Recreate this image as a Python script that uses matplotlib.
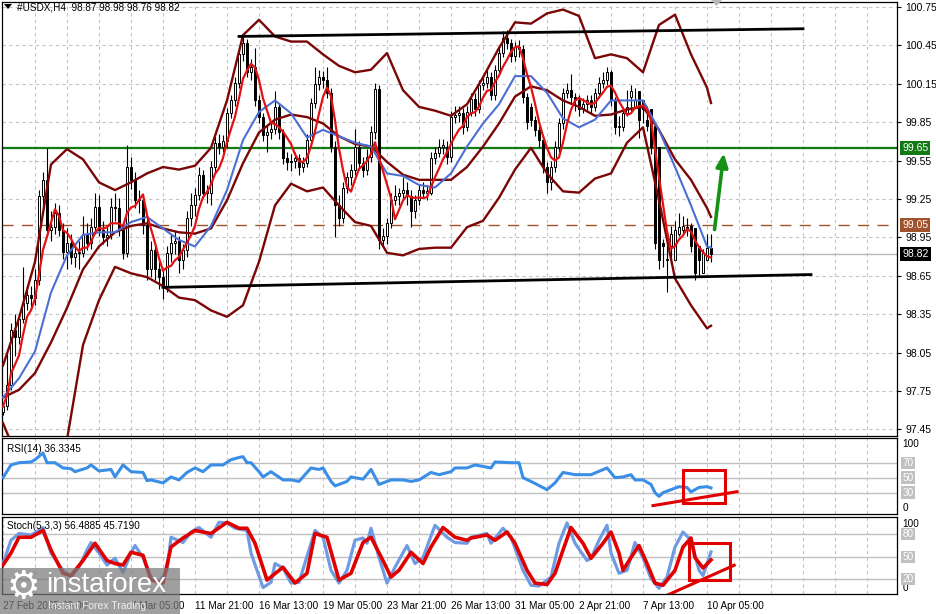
import numpy as np
import pandas as pd
import matplotlib
matplotlib.use("Agg")
import matplotlib.pyplot as plt
import matplotlib.transforms as mtrans
from matplotlib.patches import Rectangle, Polygon

plt.rcParams['font.family'] = ['Liberation Sans', 'DejaVu Sans']

# ---------------- data ----------------
opens = [97.59, 97.63, 97.80, 98.23, 98.17, 98.31, 98.44, 98.50, 98.48, 98.62,
         99.27, 99.40, 99.01, 99.03, 99.14, 99.01, 98.84, 98.91, 98.80, 98.83,
         98.83, 98.98, 98.91, 99.03, 99.19, 99.01, 98.95, 98.97, 99.19, 99.18,
         99.01, 98.83, 99.50, 99.40, 99.24, 99.24, 99.05, 98.70, 98.85, 98.70,
         98.64, 98.56, 98.83, 98.91, 98.92, 98.77, 98.85, 99.10, 99.20, 99.28,
         99.44, 99.30, 99.30, 99.50, 99.69, 99.66, 99.70, 99.92, 100.02, 100.16,
         100.38, 100.47, 100.24, 100.28, 100.02, 99.89, 99.75, 99.77, 99.80, 99.97,
         99.77, 99.57, 99.54, 99.55, 99.57, 99.50, 99.53, 99.71, 100.00, 100.15,
         100.20, 100.18, 100.08, 99.66, 99.20, 99.10, 99.34, 99.42, 99.48, 99.66,
         99.53, 99.48, 99.58, 99.77, 100.11, 98.93, 98.96, 99.06, 99.24, 99.27,
         99.30, 99.32, 99.27, 99.16, 99.24, 99.32, 99.30, 99.30, 99.57, 99.61,
         99.66, 99.66, 99.58, 99.89, 99.91, 99.92, 99.81, 99.93, 100.03, 99.95,
         100.14, 100.16, 100.20, 100.06, 100.26, 100.39, 100.51, 100.47, 100.37, 100.44,
         100.42, 100.05, 99.97, 99.87, 99.79, 99.71, 99.50, 99.38, 99.50, 99.66,
         99.84, 100.08, 100.10, 100.05, 100.02, 99.95, 99.99, 100.02, 99.97, 100.08,
         100.16, 100.18, 100.24, 100.02, 99.81, 99.81, 99.92, 100.05, 99.97, 100.09,
         100.02, 99.87, 99.95, 99.82, 99.66, 98.91, 98.77, 98.88, 98.77, 98.98,
         99.01, 99.03, 99.04, 99.02, 98.88, 98.67, 98.77, 98.87]
highs = [97.66, 98.05, 98.28, 98.35, 98.36, 98.72, 98.58, 98.57, 98.70, 99.32,
         99.46, 99.65, 99.16, 99.22, 99.20, 99.06, 99.02, 98.98, 98.90, 98.92,
         99.12, 99.06, 99.10, 99.30, 99.28, 99.08, 99.05, 99.26, 99.30, 99.26,
         99.05, 99.67, 99.58, 99.46, 99.32, 99.28, 99.10, 98.92, 98.90, 98.76,
         98.70, 98.88, 98.98, 99.00, 98.96, 98.90, 99.16, 99.30, 99.34, 99.50,
         99.48, 99.36, 99.55, 99.74, 99.76, 99.75, 99.96, 100.06, 100.20, 100.42,
         100.53, 100.50, 100.34, 100.43, 100.06, 99.92, 99.82, 99.86, 100.09, 100.00,
         99.80, 99.62, 99.60, 99.62, 99.60, 99.58, 99.76, 100.04, 100.28, 100.26,
         100.25, 100.28, 100.12, 99.70, 99.28, 99.38, 99.46, 99.52, 99.80, 99.70,
         99.58, 99.64, 99.82, 100.16, 100.14, 99.02, 99.10, 99.30, 99.36, 99.34,
         99.42, 99.38, 99.32, 99.28, 99.36, 99.38, 99.36, 99.62, 99.66, 99.72,
         99.72, 99.70, 99.94, 99.98, 99.98, 99.96, 99.98, 100.08, 100.08, 100.18,
         100.22, 100.26, 100.24, 100.30, 100.44, 100.56, 100.57, 100.50, 100.48, 100.49,
         100.45, 100.08, 100.00, 99.90, 99.82, 99.74, 99.54, 99.55, 99.70, 99.88,
         100.12, 100.16, 100.23, 100.08, 100.06, 100.04, 100.06, 100.06, 100.12, 100.20,
         100.24, 100.28, 100.26, 100.05, 99.90, 99.96, 100.10, 100.14, 100.12, 100.05,
         100.00, 99.98, 99.85, 99.68, 98.96, 98.94, 98.92, 99.04, 99.08, 99.14,
         99.12, 99.10, 99.06, 98.90, 98.80, 98.86, 98.98, 98.98]
lows = [97.56, 97.60, 97.76, 98.02, 98.12, 98.28, 98.38, 98.40, 98.42, 98.58,
        99.18, 98.95, 98.92, 98.98, 98.96, 98.78, 98.70, 98.74, 98.72, 98.70,
        98.80, 98.85, 98.86, 98.98, 98.96, 98.90, 98.88, 98.94, 99.08, 98.96,
        98.78, 98.80, 99.33, 99.18, 99.14, 98.98, 98.62, 98.64, 98.62, 98.55,
        98.47, 98.52, 98.76, 98.82, 98.67, 98.70, 98.80, 99.04, 99.12, 99.24,
        99.26, 99.22, 99.20, 99.45, 99.60, 99.62, 99.66, 99.88, 99.98, 100.12,
        100.33, 100.20, 100.18, 99.98, 99.84, 99.70, 99.62, 99.72, 99.76, 99.72,
        99.52, 99.48, 99.47, 99.49, 99.44, 99.46, 99.50, 99.68, 99.96, 100.10,
        100.12, 100.04, 99.62, 98.95, 99.04, 99.06, 99.30, 99.36, 99.44, 99.48,
        99.42, 99.44, 99.54, 99.72, 98.86, 98.88, 98.90, 99.02, 99.20, 99.20,
        99.25, 99.20, 99.03, 99.10, 99.20, 99.26, 99.24, 99.28, 99.52, 99.58,
        99.60, 99.52, 99.54, 99.84, 99.85, 99.76, 99.78, 99.90, 99.90, 99.92,
        100.10, 100.12, 100.02, 100.02, 100.22, 100.36, 100.42, 100.32, 100.33, 100.36,
        100.00, 99.80, 99.82, 99.74, 99.66, 99.45, 99.30, 99.32, 99.46, 99.62,
        99.80, 100.04, 100.00, 99.94, 99.90, 99.92, 99.94, 99.92, 99.94, 100.04,
        100.12, 100.14, 99.98, 99.76, 99.74, 99.78, 99.90, 99.94, 99.96, 99.73,
        99.84, 99.78, 99.60, 98.86, 98.70, 98.72, 98.52, 98.74, 98.92, 98.96,
        98.98, 98.96, 98.84, 98.62, 98.64, 98.72, 98.80, 98.76]
closes = [97.63, 97.80, 98.23, 98.17, 98.31, 98.44, 98.50, 98.48, 98.62, 99.27,
          99.40, 99.01, 99.03, 99.14, 99.01, 98.84, 98.91, 98.80, 98.83, 98.83,
          98.98, 98.91, 99.03, 99.19, 99.01, 98.95, 98.97, 99.19, 99.18, 99.01,
          98.83, 99.50, 99.40, 99.24, 99.24, 99.05, 98.70, 98.85, 98.70, 98.64,
          98.56, 98.83, 98.91, 98.92, 98.77, 98.85, 99.10, 99.20, 99.28, 99.44,
          99.30, 99.30, 99.50, 99.69, 99.66, 99.70, 99.92, 100.02, 100.16, 100.38,
          100.47, 100.24, 100.28, 100.02, 99.89, 99.75, 99.77, 99.80, 99.97, 99.77,
          99.57, 99.54, 99.55, 99.57, 99.50, 99.53, 99.71, 100.00, 100.15, 100.20,
          100.18, 100.08, 99.66, 99.20, 99.10, 99.34, 99.42, 99.48, 99.66, 99.53,
          99.48, 99.58, 99.77, 100.11, 98.93, 98.96, 99.06, 99.24, 99.27, 99.30,
          99.32, 99.27, 99.16, 99.24, 99.32, 99.30, 99.30, 99.57, 99.61, 99.66,
          99.66, 99.58, 99.89, 99.91, 99.92, 99.81, 99.93, 100.03, 99.95, 100.14,
          100.16, 100.20, 100.06, 100.26, 100.39, 100.51, 100.47, 100.37, 100.44, 100.42,
          100.05, 99.85, 99.87, 99.79, 99.71, 99.50, 99.38, 99.50, 99.66, 99.84,
          100.08, 100.10, 100.05, 100.02, 99.95, 99.99, 100.02, 99.97, 100.08, 100.16,
          100.18, 100.24, 100.02, 99.81, 99.81, 99.92, 99.97, 100.09, 100.02, 99.87,
          99.95, 99.82, 99.66, 98.91, 98.77, 98.88, 98.77, 98.98, 99.01, 99.03,
          99.04, 99.02, 98.88, 98.67, 98.77, 98.83, 98.87, 98.82]

# overlay lines sampled every 4 bars (+ last bar)
band_bars = list(range(0, 177, 4)) + [177]
bb_upper = [97.95, 98.32, 98.76, 99.52, 99.64, 99.56, 99.38, 99.32, 99.38, 99.45,
            99.50, 99.48, 99.51, 99.65, 100.02, 100.53, 100.65, 100.52, 100.48, 100.48,
            100.38, 100.29, 100.24, 100.26, 100.39, 100.10, 99.97, 99.94, 99.90, 99.99,
            100.20, 100.43, 100.63, 100.62, 100.70, 100.73, 100.68, 100.35, 100.38, 100.35,
            100.24, 100.61, 100.69, 100.38, 100.12, 100.00]
bb_middle = [97.70, 97.76, 97.89, 98.13, 98.40, 98.70, 98.88, 98.99, 99.04, 99.06,
             99.02, 98.99, 98.98, 99.02, 99.24, 99.53, 99.77, 99.87, 99.91, 99.89,
             99.84, 99.74, 99.68, 99.66, 99.54, 99.44, 99.40, 99.40, 99.40, 99.50,
             99.66, 99.84, 100.05, 100.13, 100.10, 100.02, 99.97, 99.90, 99.91, 99.95,
             99.97, 99.79, 99.56, 99.40, 99.18, 99.11]
bb_lower = [97.50, 97.20, 97.02, 96.80, 97.37, 98.11, 98.46, 98.72, 98.67, 98.64,
            98.57, 98.48, 98.46, 98.38, 98.33, 98.42, 98.76, 99.20, 99.37, 99.31,
            99.34, 99.20, 99.07, 99.04, 98.83, 98.81, 98.86, 98.87, 98.87, 99.03,
            99.08, 99.26, 99.48, 99.65, 99.45, 99.31, 99.30, 99.41, 99.45, 99.69,
            99.81, 99.24, 98.63, 98.42, 98.24, 98.26]
ma_blue = [97.70, 97.85, 98.06, 98.52, 98.81, 98.97, 98.99, 98.99, 99.07, 99.11,
           99.02, 98.93, 98.88, 99.04, 99.32, 99.71, 99.93, 100.02, 99.92, 99.73,
           99.79, 99.74, 99.69, 99.66, 99.45, 99.43, 99.36, 99.34, 99.45, 99.66,
           99.84, 99.99, 100.21, 100.21, 100.08, 99.88, 99.81, 99.87, 100.02, 100.02,
           100.02, 99.79, 99.50, 99.20, 98.88, 98.87]

rsi_bars = [0, 2, 4, 7, 8, 10, 11, 13, 15, 17, 18, 21, 22, 24, 27, 28, 30, 32, 35, 36,
            37, 40, 42, 44, 46, 48, 50, 52, 55, 57, 59, 60, 61, 62, 64, 65, 67, 70, 72, 74,
            77, 79, 80, 82, 83, 86, 87, 90, 92, 94, 95, 97, 100, 102, 104, 107, 109, 112, 113, 116,
            118, 122, 123, 127, 129, 130, 132, 136, 138, 140, 143, 147, 151, 153, 155, 157, 158, 160, 162, 163,
            164, 165, 167, 169, 171, 172, 174, 176, 177]
rsi_vals = [50, 67, 70, 71, 74, 83, 70, 70, 63, 62, 58, 63, 67, 59, 61, 51, 67, 58, 57, 46,
            47, 43, 51, 47, 57, 63, 58, 67, 67, 74, 77, 78, 70, 70, 58, 51, 58, 47, 47, 45,
            63, 61, 63, 45, 39, 45, 51, 48, 61, 41, 43, 47, 47, 45, 47, 57, 54, 58, 63, 63,
            67, 63, 71, 70, 70, 50, 45, 34, 43, 57, 54, 54, 63, 50, 51, 54, 47, 47, 41, 30,
            25, 30, 34, 38, 37, 31, 37, 38, 36.33]

stk_bars = [0, 2, 4, 7, 9, 10, 12, 15, 17, 19, 21, 22, 24, 26, 28, 30, 32, 33, 35, 37,
            39, 41, 42, 45, 47, 49, 52, 54, 56, 58, 61, 62, 65, 67, 68, 70, 72, 74, 77, 78,
            80, 82, 84, 86, 88, 90, 91, 92, 94, 96, 98, 101, 103, 105, 108, 111, 113, 116, 117, 121,
            122, 125, 127, 130, 132, 134, 137, 139, 141, 143, 146, 147, 149, 151, 152, 154, 156, 158, 160, 162,
            164, 166, 168, 170, 172, 174, 175, 176, 177]
stk_main = [41, 72, 81, 79, 85, 89, 55, 32, 23, 36, 59, 69, 55, 39, 48, 29, 55, 65, 49, 23,
            16, 32, 76, 69, 83, 89, 76, 96, 95, 88, 85, 55, 9, 16, 41, 35, 15, 16, 68, 85,
            76, 32, 15, 32, 72, 75, 68, 88, 49, 15, 36, 65, 41, 49, 92, 76, 69, 68, 76, 81,
            68, 88, 76, 32, 12, 11, 23, 68, 95, 68, 45, 48, 72, 92, 55, 28, 32, 69, 49, 21,
            8, 23, 63, 83, 72, 32, 25, 41, 56.49]
sig_bars = [0, 2, 4, 7, 10, 12, 15, 17, 20, 23, 26, 28, 30, 32, 35, 37, 40, 42, 45, 48,
            52, 56, 59, 61, 63, 66, 70, 73, 76, 78, 81, 84, 87, 90, 92, 95, 97, 99, 102, 105,
            107, 110, 113, 116, 117, 121, 123, 126, 128, 131, 133, 136, 138, 140, 142, 145, 147, 150, 152, 154,
            155, 157, 159, 161, 163, 165, 168, 170, 172, 173, 175, 177]
stk_signal = [39, 55, 76, 76, 85, 59, 28, 25, 45, 68, 45, 41, 39, 56, 52, 19, 15, 63, 75, 85,
              81, 96, 88, 88, 68, 19, 36, 15, 28, 81, 76, 19, 28, 69, 76, 45, 23, 32, 56, 41,
              63, 89, 76, 72, 75, 79, 72, 83, 68, 32, 15, 13, 28, 59, 89, 68, 48, 68, 83, 55,
              32, 49, 65, 41, 15, 12, 32, 63, 75, 49, 35, 45.72]

price_levels = [100.75, 100.45, 100.15, 99.85, 99.55, 99.25, 98.95, 98.65, 98.35, 98.05, 97.75, 97.45]
label_bars = [0, 32, 48, 64, 80, 96, 112, 128, 144, 160, 176]
label_text = ['27 Feb 2025 09:00', '7 Mar 05:00', '11 Mar 21:00', '16 Mar 13:00', '19 Mar 05:00',
              '23 Mar 21:00', '26 Mar 13:00', '31 Mar 05:00', '2 Apr 21:00', '7 Apr 13:00', '10 Apr 05:00']

resistance_level = 99.65
mid_level = 99.05
last_price = 98.82
trend_top = ([59, 200], [100.52, 100.58])
trend_bottom = ([40, 202], [98.56, 98.66])
arrow_from = (177.8, 98.99)
arrow_to = (180.3, 99.63)
rsi_box = (170.0, 16.7, 180.5, 60.7)
rsi_trend = ([162.5, 183.5], [12.7, 31.3])
stk_box = (171.5, 18.7, 181.8, 68.0)
stk_trend = ([166.0, 182.8], [-1.3, 38.7])

# ---------------- figure ----------------
W, H = 937, 614
fig = plt.figure(figsize=(W / 100, H / 100), dpi=100)


def frame(x0, y0, x1, y1):
    return [x0 / W, 1 - y1 / H, (x1 - x0) / W, (y1 - y0) / H]


ax = fig.add_axes(frame(2, 2, 897, 436))
ax_r = fig.add_axes(frame(2, 438, 897, 514))
ax_s = fig.add_axes(frame(2, 517, 897, 594))

XMIN, XMAX = -0.25, 223.5
grid_kw = dict(color='#c4c4c4', lw=0.8, ls=(0, (3, 3)))
for a in (ax, ax_r, ax_s):
    a.set_xlim(XMIN, XMAX)
    a.set_facecolor('white')
    for s in a.spines.values():
        s.set_color('black')
        s.set_linewidth(0.9)
    a.set_xticks(list(range(8, 224, 8)))
    a.grid(True, axis='x', **grid_kw)
    a.set_axisbelow(True)
    a.tick_params(axis='x', length=0, labelbottom=False)

# main panel
ax.set_ylim(97.399, 100.789)
ax.yaxis.tick_right()
ax.set_yticks(price_levels)
ax.set_yticklabels([f'{v:.2f}' for v in price_levels])
ax.tick_params(axis='y', right=True, left=False, length=3, width=0.8, pad=3, labelsize=7.5)
ax.grid(True, axis='y', **grid_kw)

ax.axhline(resistance_level, color='#127a12', lw=1.6, zorder=2)
ax.axhline(mid_level, color='#a0522d', lw=1.0, ls=(0, (8, 6)), zorder=2)
ax.axhline(last_price, color='#b8b8b8', lw=1.0, zorder=1.5)

o = np.array(opens); h = np.array(highs); l = np.array(lows); c = np.array(closes)
bars = np.arange(len(c))
up = c >= o
ax.vlines(bars, l, h, color='black', lw=0.8, zorder=3)
bottom = np.minimum(o, c)
height = np.maximum(np.abs(c - o), 0.01)
ax.bar(bars[up], height[up], bottom=bottom[up], width=0.62, color='white',
       edgecolor='black', linewidth=0.7, zorder=3.2)
ax.bar(bars[~up], height[~up], bottom=bottom[~up], width=0.62, color='black',
       edgecolor='black', linewidth=0.7, zorder=3.2)

maroon = '#7a0606'
ax.plot(band_bars, bb_upper, color=maroon, lw=1.7, zorder=4)
ax.plot(band_bars, bb_middle, color=maroon, lw=1.7, zorder=4)
ax.plot(band_bars, bb_lower, color=maroon, lw=1.7, zorder=4)
ax.plot(band_bars, ma_blue, color='#4b6fd4', lw=1.5, zorder=4.2)
red_ma = pd.Series(closes).rolling(5, min_periods=1).mean()
ax.plot(bars, red_ma, color='#e31212', lw=1.6, zorder=4.4)

ax.plot(*trend_top, color='black', lw=2.0, zorder=5)
ax.plot(*trend_bottom, color='black', lw=2.0, zorder=5)
ax.annotate('', xy=arrow_to, xytext=arrow_from,
            arrowprops=dict(arrowstyle='-|>,head_length=0.8,head_width=0.35', color='#159215', lw=2.6),
            zorder=6)

bt = mtrans.blended_transform_factory(ax.transAxes, ax.transData)
for val, fc in ((resistance_level, '#127a12'), (mid_level, '#a0522d'), (last_price, 'black')):
    ax.text(1.006, val, f'{val:.2f}', transform=bt, ha='left', va='center', fontsize=7.5,
            color='white', bbox=dict(boxstyle='square,pad=0.18', fc=fc, ec='none'),
            clip_on=False, zorder=10)

# RSI panel
ax_r.set_ylim(1.5, 103)
ax_r.set_yticks([])
for lv in (70, 50, 30):
    ax_r.axhline(lv, color='#c0c0c0', lw=1.0, zorder=1)
ax_r.plot(rsi_bars, rsi_vals, color='#3a8ee6', lw=2.2, zorder=3)
ax_r.add_patch(Rectangle((rsi_box[0], rsi_box[1]), rsi_box[2] - rsi_box[0], rsi_box[3] - rsi_box[1],
                         fill=False, ec='#e00000', lw=2.2, zorder=5))
ax_r.plot(*rsi_trend, color='#e00000', lw=2.2, zorder=5, clip_on=False)
ax_r.text(0.006, 0.86, 'RSI(14) 36.3345', transform=ax_r.transAxes, fontsize=7.2, va='center')
br = mtrans.blended_transform_factory(ax_r.transAxes, ax_r.transData)
ax_r.text(1.006, 95, '100', transform=br, fontsize=7.2, va='center', clip_on=False)
ax_r.text(1.006, 9, '0', transform=br, fontsize=7.2, va='center', clip_on=False)
for lv in (70, 50, 30):
    ax_r.text(1.006, lv, str(lv), transform=br, fontsize=7.2, va='center', color='white',
              bbox=dict(boxstyle='square,pad=0.12', fc='#c0c0c0', ec='none'), clip_on=False)

# Stochastic panel
ax_s.set_ylim(0.4, 103)
ax_s.set_yticks([])
for lv in (80, 50, 20):
    ax_s.axhline(lv, color='#c0c0c0', lw=1.0, zorder=1)
ax_s.plot(stk_bars, stk_main, color='#6f9be3', lw=2.3, zorder=3)
ax_s.plot(sig_bars, stk_signal, color='#e00000', lw=2.6, zorder=3.5)
ax_s.add_patch(Rectangle((stk_box[0], stk_box[1]), stk_box[2] - stk_box[0], stk_box[3] - stk_box[1],
                         fill=False, ec='#e00000', lw=2.2, zorder=5))
ax_s.plot(*stk_trend, color='#e00000', lw=2.2, zorder=5)
ax_s.text(0.006, 0.88, 'Stoch(5,3,3) 56.4885 45.7190', transform=ax_s.transAxes, fontsize=7.2, va='center')
bs = mtrans.blended_transform_factory(ax_s.transAxes, ax_s.transData)
ax_s.text(1.006, 94, '100', transform=bs, fontsize=7.2, va='center', clip_on=False)
ax_s.text(1.006, 8, '0', transform=bs, fontsize=7.2, va='center', clip_on=False)
for lv in (80, 50, 20):
    ax_s.text(1.006, lv, str(lv), transform=bs, fontsize=7.2, va='center', color='white',
              bbox=dict(boxstyle='square,pad=0.12', fc='#c0c0c0', ec='none'), clip_on=False)

# time axis labels
ticks = list(range(0, 224, 8))
ax_s.set_xticks(ticks)
lab = {b: t for b, t in zip(label_bars, label_text)}
ax_s.set_xticklabels([lab.get(t, '') for t in ticks])
ax_s.tick_params(axis='x', labelbottom=True, length=0, pad=5, labelsize=7.2)
for t in ax_s.get_xticklabels():
    t.set_ha('left')

# header
fig.text(17 / W, 1 - 7 / H, '#USDX,H4  98.87 98.98 98.76 98.82', fontsize=7.2, va='center', ha='left')
fig.patches.append(Polygon([[4 / W, 1 - 4 / H], [12 / W, 1 - 4 / H], [8 / W, 1 - 9 / H]],
                           closed=True, transform=fig.transFigure, fc='black', ec='none'))
fig.patches.append(Polygon([[711 / W, 1.0], [722 / W, 1.0], [716.5 / W, 1 - 6 / H]],
                           closed=True, transform=fig.transFigure, fc='#b8b8b8', ec='none', zorder=10))

# watermark (semi-transparent logo box over the bottom-left corner)
fig.patches.append(Rectangle((0, 0), 180 / W, 46 / H, transform=fig.transFigure,
                             fc='#7a7a7a', ec='none', alpha=0.72, zorder=20))
fig.text(23 / W, 1 - 588 / H, '\u2699', fontsize=27, color='white', ha='center', va='center',
         family=['DejaVu Sans'], zorder=21)
fig.text(46 / W, 1 - 585 / H, 'instaforex', fontsize=20, color='white', ha='left', va='center', zorder=21)
fig.text(48 / W, 1 - 606 / H, 'Instant Forex Trading', fontsize=7.5, color='#eeeeee', ha='left',
         va='center', zorder=21)

fig.savefig('out.png', dpi=100, facecolor='white')
